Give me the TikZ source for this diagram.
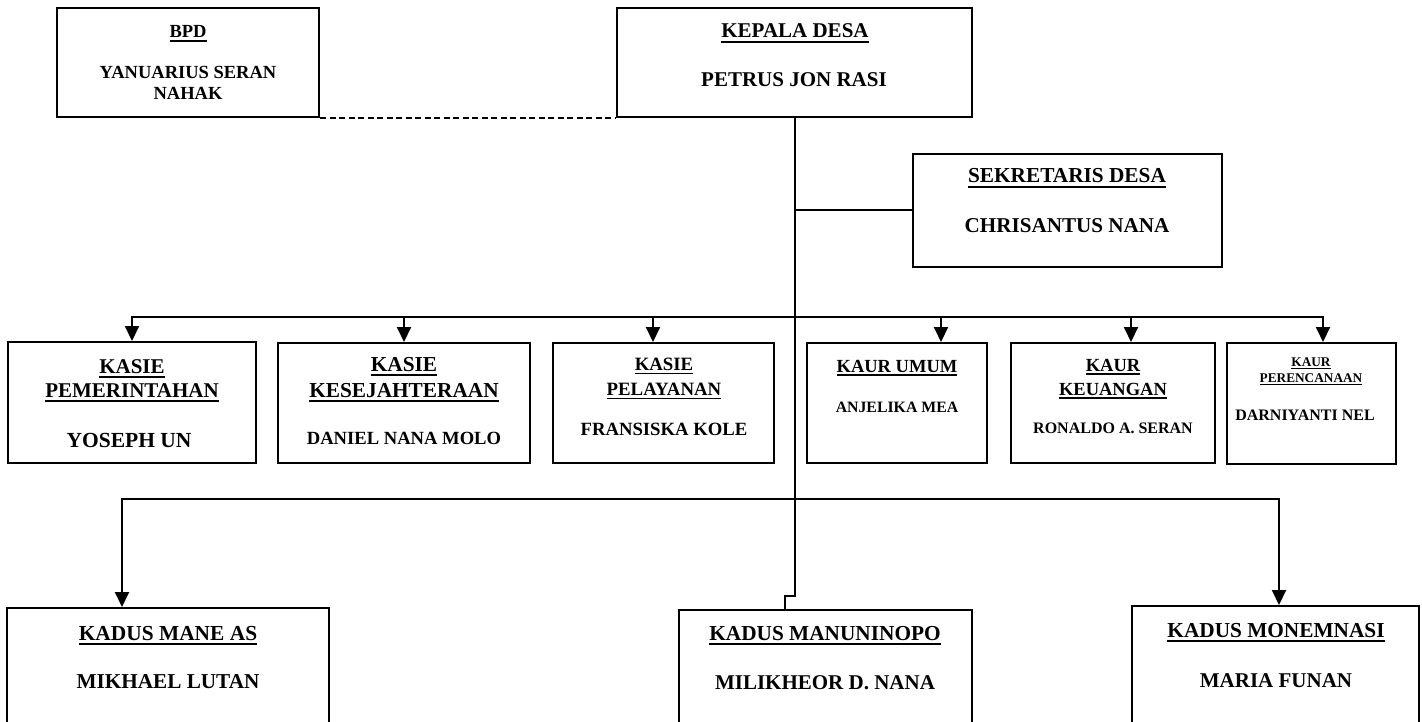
\documentclass[tikz,border=0pt]{standalone}
\usepackage{fontspec}
\setmainfont{Liberation Serif}
\usetikzlibrary{arrows.meta}
\newcommand\ulx[1]{\setbox0\hbox{#1}\rlap{\rule[-0.22em]{\wd0}{0.085em}}\box0}
\newcommand\fsz[1]{\fontsize{#1}{#1}\selectfont\bfseries}
\newcommand\bx[5]{\node[box, minimum width={#4-#2}, minimum height={#5-#3}] (#1) at ({(#2+#4)/2},{(#3+#5)/2}) {};}
\newcommand\tx[5]{\node[txt, font=\fsz{#4}] (#1) at (#2,#3) {#5};}
\tikzset{
  box/.style={draw=black, line width=2pt, inner sep=0pt, fill=white},
  txt/.style={anchor=base, inner sep=0pt},
  conn/.style={draw=black, line width=2pt},
  tip/.style={conn, -{Triangle[width=14pt,length=15pt]}},
  tips/.style={conn, {Triangle[width=14pt,length=15pt]}-{Triangle[width=14pt,length=15pt]}},
  dline/.style={draw=black, line width=2pt, dash pattern=on 6pt off 3.5pt}
}
\begin{document}
\begin{tikzpicture}[x=1pt,y=-1pt]
\useasboundingbox (0,0) rectangle (1422,722);
\clip (0,0) rectangle (1422,722);
\fill[white] (0,0) rectangle (1422,722);

% connectors first
\coordinate (a1) at (132,317);
\coordinate (a2) at (404,317);
\coordinate (a3) at (653,317);
\coordinate (a4) at (941,317);
\coordinate (a5) at (1131,317);
\coordinate (a6) at (1323,317);
\coordinate (b1) at (122,499);
\coordinate (b3) at (1279,499);
\coordinate (jog1) at (795,596);
\coordinate (jog2) at (785,596);

% boxes
\bx{bpd}{57}{8}{319}{117}
\bx{kd}{617}{8}{972}{117}
\bx{sek}{913}{154}{1222}{267}
\bx{k1}{8}{342}{256}{463}
\bx{k2}{278}{343}{530}{463}
\bx{k3}{553}{343}{774}{463}
\bx{k4}{807}{343}{987}{463}
\bx{k5}{1011}{343}{1215}{463}
\bx{k6}{1227}{343}{1396}{464}
\bx{m1}{7}{608}{329}{760}
\bx{m2}{679}{610}{972}{760}
\bx{m3}{1132}{606}{1419}{760}

\draw[dline] (bpd.south east) -- (kd.south west);
\draw[conn] (kd.south -| jog1) -- (jog1) -- (jog2) -- (jog2 |- m2.north);
\draw[conn] (jog1 |- sek.west) -- (sek.west);
\draw[tips] (a1 |- k1.north) -- (a1) -- (a6) -- (a6 |- k6.north);
\draw[tip] (a2) -- (a2 |- k2.north);
\draw[tip] (a3) -- (a3 |- k3.north);
\draw[tip] (a4) -- (a4 |- k4.north);
\draw[tip] (a5) -- (a5 |- k5.north);
\draw[tips] (b1 |- m1.north) -- (b1) -- (b3) -- (b3 |- m3.north);

% texts
\tx{bpdT}{188}{38}{18.5}{\ulx{BPD}}
\tx{bpdN1}{188}{79}{18.5}{YANUARIUS SERAN}
\tx{bpdN2}{188}{100}{18.5}{NAHAK}

\tx{kdT}{795}{38}{21}{\ulx{KEPALA DESA}}
\tx{kdN}{794}{87}{21}{PETRUS JON RASI}

\tx{sekT}{1067}{183}{21.3}{\ulx{SEKRETARIS DESA}}
\tx{sekN}{1067}{233}{21.1}{CHRISANTUS NANA}

\tx{k1T1}{132}{373}{21}{\ulx{KASIE}}
\tx{k1T2}{132}{397}{21}{\ulx{PEMERINTAHAN}}
\tx{k1N}{129}{447}{21.5}{YOSEPH UN}

\tx{k2T1}{404}{371}{21.3}{\ulx{KASIE}}
\tx{k2T2}{404}{397}{21.3}{\ulx{KESEJAHTERAAN}}
\tx{k2N}{404}{444}{18.6}{DANIEL NANA MOLO}

\tx{k3T1}{664}{370}{18.8}{\ulx{KASIE}}
\tx{k3T2}{664}{395}{18.8}{\ulx{PELAYANAN}}
\tx{k3N}{664}{435}{18.7}{FRANSISKA KOLE}

\tx{k4T}{897}{372}{18.5}{\ulx{KAUR UMUM}}
\tx{k4N}{897}{412}{15.8}{ANJELIKA MEA}

\tx{k5T1}{1113}{371}{18.5}{\ulx{KAUR}}
\tx{k5T2}{1113}{395}{18.5}{\ulx{KEUANGAN}}
\tx{k5N}{1113}{433}{16}{RONALDO A. SERAN}

\tx{k6T1}{1311}{366}{13.3}{\ulx{KAUR}}
\tx{k6T2}{1311}{382}{13.3}{\ulx{PERENCANAAN}}
\tx{k6N}{1305}{420}{16}{DARNIYANTI NEL}

\tx{m1T}{168}{640}{21.4}{\ulx{KADUS MANE AS}}
\tx{m1N}{168}{688}{21.2}{MIKHAEL LUTAN}

\tx{m2T}{825}{640}{21.3}{\ulx{KADUS MANUNINOPO}}
\tx{m2N}{825}{689}{21}{MILIKHEOR D. NANA}

\tx{m3T}{1276}{637}{21.3}{\ulx{KADUS MONEMNASI}}
\tx{m3N}{1276}{687}{21}{MARIA FUNAN}
\end{tikzpicture}
\end{document}
